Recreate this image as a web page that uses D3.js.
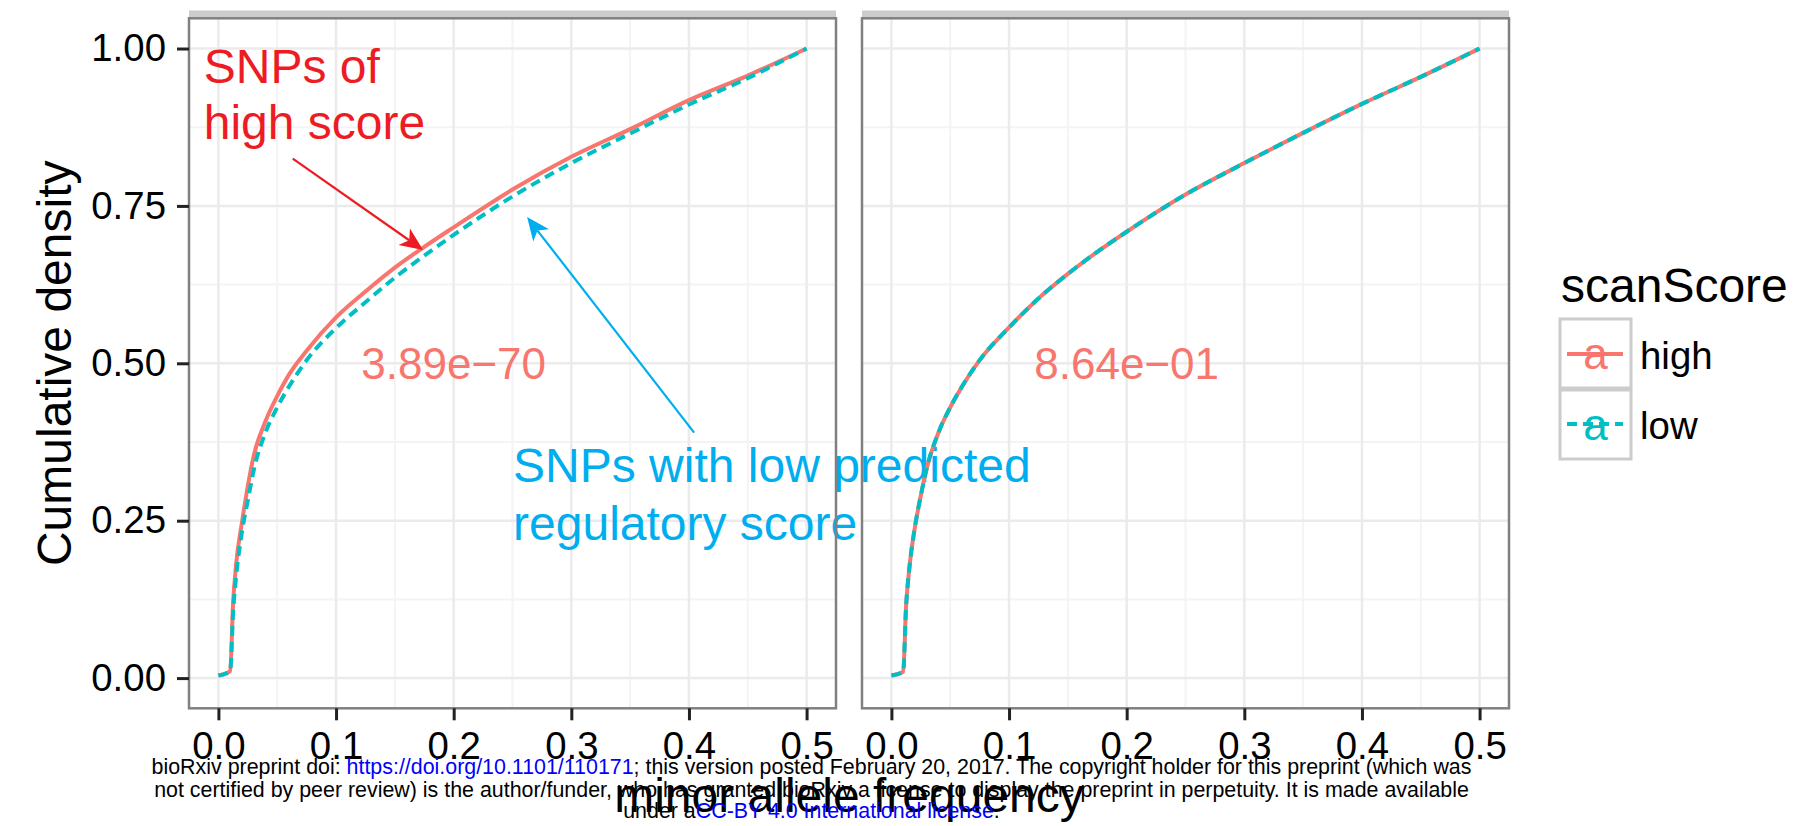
<!DOCTYPE html>
<html>
<head>
<meta charset="utf-8">
<script src="https://cdn.jsdelivr.net/npm/d3@7"></script>
<style>
  body { margin: 0; background: #fff; }
  svg { font-family: "Liberation Sans", Arial, Helvetica, sans-serif; }
</style>
</head>
<body>
<svg id="chart" width="1815" height="826"></svg>
<script>
// minor allele frequency values where the cumulative curves were read
const maf = [0, 0.01, 0.0125, 0.015, 0.02, 0.025, 0.03, 0.04, 0.05, 0.06, 0.075, 0.1,
             0.125, 0.15, 0.175, 0.2, 0.25, 0.3, 0.35, 0.4, 0.45, 0.5];

// left panel
const leftHigh = [0.004, 0.011, 0.12, 0.18, 0.247, 0.305, 0.353, 0.408, 0.448, 0.482, 0.52, 0.573,
                  0.614, 0.652, 0.685, 0.716, 0.776, 0.828, 0.872, 0.918, 0.957, 1.0];
const leftLow  = [0.004, 0.011, 0.105, 0.16, 0.232, 0.282, 0.33, 0.39, 0.43, 0.463, 0.505, 0.556,
                  0.597, 0.636, 0.671, 0.704, 0.765, 0.818, 0.865, 0.911, 0.953, 1.0];
// right panel
const rightHigh = [0.004, 0.01, 0.115, 0.17, 0.24, 0.29, 0.333, 0.39, 0.43, 0.463, 0.505, 0.557,
                   0.603, 0.642, 0.677, 0.709, 0.768, 0.818, 0.866, 0.912, 0.955, 1.0];
const rightLow  = [0.004, 0.01, 0.115, 0.17, 0.24, 0.29, 0.333, 0.39, 0.43, 0.463, 0.505, 0.557,
                   0.603, 0.642, 0.677, 0.709, 0.768, 0.818, 0.866, 0.912, 0.955, 1.0];

const pValues = ["3.89e\u221270", "8.64e\u221201"];
const groups = ["high", "low"];

const xBreaks = [0, 0.1, 0.2, 0.3, 0.4, 0.5];
const xMinor = [0.05, 0.15, 0.25, 0.35, 0.45];
const xLabels = ["0.0", "0.1", "0.2", "0.3", "0.4", "0.5"];
const yBreaks = [0, 0.25, 0.5, 0.75, 1];
const yMinor = [0.125, 0.375, 0.625, 0.875];
const yLabels = ["0.00", "0.25", "0.50", "0.75", "1.00"];

//colours
const colHigh = "#F8766D", colLow = "#00BFC4";
const colRed = "#ED1C24", colBlue = "#00AEEF";

//layout
const panelLeft = [189, 862];
const panelW = 647;
const panelTop = 18.3, panelBottom = 708.3;

const svg = d3.select("#chart");

const y = d3.scaleLinear().domain([-0.048, 1.048]).range([panelBottom, panelTop]);

const panels = [
  {high: leftHigh, low: leftLow, p: pValues[0]},
  {high: rightHigh, low: rightLow, p: pValues[1]}
];

let xLeft; // x scale of the first panel, used by the annotations

panels.forEach(function(pan, i){
  const x = d3.scaleLinear().domain([-0.025, 0.525]).range([panelLeft[i], panelLeft[i] + panelW]);
  if (i === 0) xLeft = x;
  const g = svg.append("g").attr("class", "panel");

  g.append("rect")
    .attr("x", panelLeft[i]).attr("y", panelTop)
    .attr("width", panelW).attr("height", panelBottom - panelTop)
    .attr("fill", "#fff");

  //grid
  g.selectAll(".xminor").data(xMinor).enter().append("line")
    .attr("x1", d => x(d)).attr("x2", d => x(d))
    .attr("y1", panelTop).attr("y2", panelBottom)
    .attr("stroke", "#F4F4F4").attr("stroke-width", 2);
  g.selectAll(".yminor").data(yMinor).enter().append("line")
    .attr("y1", d => y(d)).attr("y2", d => y(d))
    .attr("x1", panelLeft[i]).attr("x2", panelLeft[i] + panelW)
    .attr("stroke", "#F4F4F4").attr("stroke-width", 2);
  g.selectAll(".xmajor").data(xBreaks).enter().append("line")
    .attr("x1", d => x(d)).attr("x2", d => x(d))
    .attr("y1", panelTop).attr("y2", panelBottom)
    .attr("stroke", "#EBEBEB").attr("stroke-width", 2.5);
  g.selectAll(".ymajor").data(yBreaks).enter().append("line")
    .attr("y1", d => y(d)).attr("y2", d => y(d))
    .attr("x1", panelLeft[i]).attr("x2", panelLeft[i] + panelW)
    .attr("stroke", "#EBEBEB").attr("stroke-width", 2.5);

  //p value
  g.append("text")
    .attr("x", x(0.2)).attr("y", y(0.5))
    .attr("dy", "0.35em")
    .attr("text-anchor", "middle")
    .attr("font-size", 44)
    .attr("fill", colHigh)
    .text(pan.p);

  pan.xScale = x;
});

//blue annotation text sits under the curves
const blueNote = ["SNPs with low predicted", "regulatory score"];
const blueNoteY = [0.3116, 0.22];
svg.append("g").selectAll("text").data(blueNote).enter().append("text")
  .attr("x", xLeft(0.2505))
  .attr("y", (d, i) => y(blueNoteY[i]))
  .attr("font-size", 48)
  .attr("fill", colBlue)
  .text(d => d);

panels.forEach(function(pan, i){
  const x = pan.xScale;
  const g = svg.append("g");
  const line = d3.line()
    .x(d => x(d[0]))
    .y(d => y(d[1]))
    .curve(d3.curveMonotoneX);

  g.append("path")
    .datum(maf.map((m, k) => [m, pan.high[k]]))
    .attr("d", line)
    .attr("fill", "none")
    .attr("stroke", colHigh)
    .attr("stroke-width", 4)
    .attr("stroke-linejoin", "round");

  g.append("path")
    .datum(maf.map((m, k) => [m, pan.low[k]]))
    .attr("d", line)
    .attr("fill", "none")
    .attr("stroke", colLow)
    .attr("stroke-width", 4)
    .attr("stroke-dasharray", "10,6");

  //strip
  g.append("rect")
    .attr("x", panelLeft[i]).attr("y", 10.5)
    .attr("width", panelW).attr("height", panelTop - 10.5)
    .attr("fill", "#CCCCCC");

  //border
  g.append("rect")
    .attr("x", panelLeft[i]).attr("y", panelTop)
    .attr("width", panelW).attr("height", panelBottom - panelTop)
    .attr("fill", "none")
    .attr("stroke", "#808080")
    .attr("stroke-width", 2.5);

  //x axis
  const ax = g.append("g")
    .attr("transform", "translate(0," + panelBottom + ")")
    .call(d3.axisBottom(x).tickValues(xBreaks).tickFormat((d, k) => xLabels[k]).tickSize(12).tickPadding(11));
  ax.select(".domain").remove();
  ax.selectAll("line").attr("stroke", "#222").attr("stroke-width", 3);
  ax.selectAll("text").attr("font-size", 38.4).attr("fill", "#000");
  ax.attr("font-family", null).attr("font-size", null);
});

//y axis
const ay = svg.append("g")
  .attr("transform", "translate(" + panelLeft[0] + ",0)")
  .call(d3.axisLeft(y).tickValues(yBreaks).tickFormat((d, k) => yLabels[k]).tickSize(12).tickPadding(11));
ay.select(".domain").remove();
ay.selectAll("line").attr("stroke", "#222").attr("stroke-width", 3);
ay.selectAll("text").attr("font-size", 38.4).attr("fill", "#000");
ay.attr("font-family", null).attr("font-size", null);

//axis titles
svg.append("text")
  .attr("transform", "translate(71," + ((panelTop + panelBottom) / 2) + ") rotate(-90)")
  .attr("text-anchor", "middle")
  .attr("font-size", 48)
  .text("Cumulative density");

svg.append("text")
  .attr("x", (panelLeft[0] + panelLeft[1] + panelW) / 2)
  .attr("y", 812)
  .attr("text-anchor", "middle")
  .attr("font-size", 48)
  .text("minor allele frequency");

//red annotation
const redNote = ["SNPs of", "high score"];
const redNoteY = [0.945, 0.857];
svg.append("g").selectAll("text").data(redNote).enter().append("text")
  .attr("x", xLeft(-0.0125))
  .attr("y", (d, i) => y(redNoteY[i]))
  .attr("font-size", 48)
  .attr("fill", colRed)
  .text(d => d);

function arrow(from, to, color){
  const x1 = xLeft(from[0]), y1 = y(from[1]);
  const x2 = xLeft(to[0]), y2 = y(to[1]);
  const a = Math.atan2(y2 - y1, x2 - x1);
  const L = 23, W = 10, N = 6;
  const ca = Math.cos(a), sa = Math.sin(a);
  const bx = x2 - L * ca, by = y2 - L * sa;
  const nx = x2 - (L - N) * ca, ny = y2 - (L - N) * sa;
  svg.append("line")
    .attr("x1", x1).attr("y1", y1).attr("x2", nx).attr("y2", ny)
    .attr("stroke", color).attr("stroke-width", 2.2);
  svg.append("path")
    .attr("d", "M" + x2 + "," + y2 +
               "L" + (bx + W * sa) + "," + (by - W * ca) +
               "L" + nx + "," + ny +
               "L" + (bx - W * sa) + "," + (by + W * ca) + "Z")
    .attr("fill", color);
}
arrow([0.0632, 0.825], [0.174, 0.68], colRed);
arrow([0.4044, 0.39], [0.2624, 0.7322], colBlue);

//legend
const legend = svg.append("g").attr("id", "legend");
legend.append("text")
  .attr("x", 1561).attr("y", 302)
  .attr("font-size", 48)
  .text("scanScore");

const keyTop = [319, 390];
const keyColors = [colHigh, colLow];
const keyDash = [null, "10,6"];
groups.forEach(function(name, i){
  const k = legend.append("g").attr("transform", "translate(1560," + keyTop[i] + ")");
  k.append("rect")
    .attr("width", 71).attr("height", 69)
    .attr("fill", "#fff")
    .attr("stroke", "#CCCCCC")
    .attr("stroke-width", 3);
  k.append("line")
    .attr("x1", 7).attr("x2", 63)
    .attr("y1", 35 - i).attr("y2", 35 - i)
    .attr("stroke", keyColors[i])
    .attr("stroke-width", 4)
    .attr("stroke-dasharray", keyDash[i]);
  k.append("text")
    .attr("x", 35.5).attr("y", 50)
    .attr("text-anchor", "middle")
    .attr("font-size", 44)
    .attr("fill", keyColors[i])
    .text("a");
  k.append("text")
    .attr("x", 80).attr("y", 50 - i)
    .attr("font-size", 38.4)
    .text(name);
});

//preprint notice
const notice = [
  [["bioRxiv preprint doi: ", "#000"], ["https://doi.org/10.1101/110171", "#0000FF"],
   ["; this version posted February 20, 2017. The copyright holder for this preprint (which was", "#000"]],
  [["not certified by peer review) is the author/funder, who has granted bioRxiv a license to display the preprint in perpetuity. It is made available", "#000"]],
  [["under a", "#000"], ["CC-BY 4.0 International license", "#0000FF"], [".", "#000"]]
];
const noticeY = [774, 796.5, 818];
notice.forEach(function(parts, i){
  const t = svg.append("text")
    .attr("x", 811.5).attr("y", noticeY[i])
    .attr("text-anchor", "middle")
    .attr("font-size", 21.4);
  parts.forEach(p => t.append("tspan").attr("fill", p[1]).text(p[0]));
});
</script>
</body>
</html>
